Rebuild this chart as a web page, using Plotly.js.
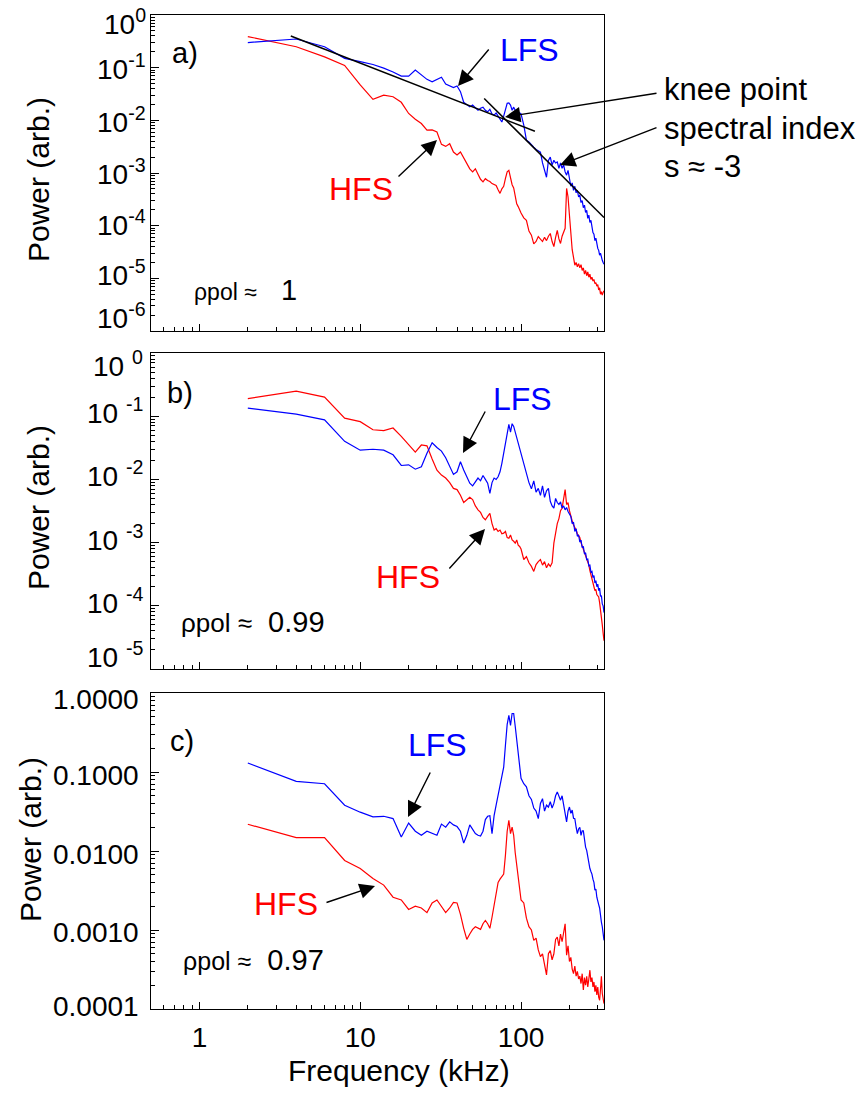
<!DOCTYPE html>
<html>
<head>
<meta charset="utf-8">
<script src="https://cdn.plot.ly/plotly-3.0.1.min.js"></script>
<style>
  html, body { margin: 0; padding: 0; background: #fff; }
  #chart { width: 864px; height: 1093px; }
</style>
</head>
<body>
<div id="chart"></div>
<script>
// Frequency grid (kHz)
const freq = [2,4,6,8,10,12,14,16,18,20,22,24,26,28,30,32,34,36,38,40,
  42,44,46,48,50,52,54,56,58,60,62,64,66,68,70,72,74,76,78,80,
  82,84,86,88,90,92,94,96,98,100,
  104,108,112,116,120,124,128,132,136,140,144,148,152,156,160,164,168,172,176,180,
  184,188,192,196,200,204,208,212,216,220,224,228,232,236,240,244,248,252,256,260,
  264,268,272,276,280,284,288,292,296,300,304,308,312,316,320,324,328];

// Panel a) rho_pol ~ 1
const lfsA = [0.30,0.35,0.25,0.15,0.13,0.115,0.098,0.083,0.069,0.069,
  0.090,0.072,0.060,0.054,0.060,0.066,0.049,0.045,0.042,0.045,
  0.035,0.022,0.020,0.018,0.0195,0.017,0.0155,0.017,0.0178,0.0155,
  0.0145,0.0162,0.0132,0.0126,0.0138,0.012,0.0105,0.0093,0.012,0.017,
  0.021,0.0214,0.0195,0.0155,0.0178,0.0155,0.0145,0.0138,0.0138,0.0132,
  8.1e-3,4.2e-3,3.9e-3,3.4e-3,3.1e-3,2.8e-3,2.6e-3,2.5e-3,1.55e-3,1.12e-3,
  8.3e-4,1.74e-3,2.0e-3,1.41e-3,1.74e-3,1.55e-3,1.62e-3,1.23e-3,1.55e-3,1.23e-3,
  1.41e-3,1.05e-3,9.1e-4,1.12e-3,7.9e-4,5.6e-4,6.5e-4,4.7e-4,5.6e-4,4.2e-4,
  4.7e-4,3.5e-4,3.8e-4,2.75e-4,3.0e-4,2.2e-4,2.45e-4,1.78e-4,1.95e-4,1.38e-4,
  1.58e-4,1.15e-4,1.26e-4,8.9e-5,7.4e-5,6.9e-5,5.2e-5,5.8e-5,4.3e-5,3.7e-5,
  3.4e-5,2.75e-5,3.0e-5,2.4e-5,2.2e-5,2.0e-5,1.86e-5];
const hfsA = [0.39,0.25,0.16,0.11,0.047,0.025,0.030,0.028,0.022,0.0135,
  0.0105,8.7e-3,6.5e-3,6.6e-3,6.0e-3,3.5e-3,3.2e-3,3.6e-3,2.5e-3,2.2e-3,
  2.5e-3,1.9e-3,1.5e-3,1.2e-3,1.05e-3,1.2e-3,9.5e-4,7.6e-4,6.8e-4,7.8e-4,
  7.2e-4,6.9e-4,6.3e-4,6.0e-4,5.8e-4,4.8e-4,4.1e-4,5.0e-4,5.6e-4,7.9e-4,
  1.05e-3,1.12e-3,7.9e-4,6.0e-4,5.2e-4,3.5e-4,2.6e-4,2.3e-4,1.9e-4,1.74e-4,
  1.41e-4,1.26e-4,7.9e-5,6.6e-5,4.5e-5,5.0e-5,6.2e-5,5.5e-5,5.0e-5,6.0e-5,
  5.2e-5,6.3e-5,7.1e-5,5.0e-5,4.0e-5,6.0e-5,8.1e-5,5.6e-5,4.6e-5,6.3e-5,
  7.6e-5,8.9e-5,5.1e-4,3.5e-4,1.58e-4,5.6e-5,3.5e-5,2.5e-5,1.78e-5,2.0e-5,
  1.66e-5,1.9e-5,1.58e-5,1.82e-5,1.41e-5,1.58e-5,1.2e-5,1.41e-5,1.12e-5,1.32e-5,
  1.05e-5,1.2e-5,9.5e-6,1.05e-5,8.9e-6,9.5e-6,7.9e-6,8.3e-6,7.1e-6,7.6e-6,
  6.0e-6,6.6e-6,5.0e-6,5.6e-6,4.8e-6,5.4e-6,5.8e-6];
// Power-law fits either side of the knee
const fitLowF = [3.7, 122];
const fitLowP = [0.40, 6.2e-3];
const fitHighF = [59, 328];
const fitHighP = [2.6e-2, 1.43e-4];

// Panel b) rho_pol ~ 0.99
const lfsB = [0.134,0.108,0.0875,0.040,0.029,0.030,0.029,0.0245,0.0166,0.017,
  0.0145,0.0158,0.026,0.038,0.032,0.028,0.022,0.0158,0.012,0.0132,
  0.019,0.0141,0.0112,8.7e-3,7.9e-3,9.1e-3,0.0105,9.5e-3,0.0115,0.010,
  8.7e-3,6.0e-3,8.9e-3,0.0105,0.010,0.011,0.0132,0.018,0.026,0.038,
  0.060,0.074,0.056,0.076,0.069,0.056,0.048,0.038,0.030,0.025,
  0.0178,0.0126,8.9e-3,7.1e-3,9.5e-3,6.3e-3,7.2e-3,5.6e-3,7.9e-3,5.2e-3,
  6.6e-3,7.2e-3,4.5e-3,3.8e-3,3.5e-3,5.0e-3,4.3e-3,4.0e-3,4.4e-3,3.5e-3,
  3.8e-3,3.3e-3,3.6e-3,3.1e-3,2.8e-3,2.6e-3,2.0e-3,2.1e-3,1.5e-3,1.66e-3,
  1.26e-3,1.32e-3,1.02e-3,1.1e-3,8.3e-4,8.7e-4,6.6e-4,6.9e-4,5.4e-4,5.5e-4,
  4.3e-4,4.4e-4,3.4e-4,3.5e-4,2.8e-4,3.0e-4,2.3e-4,2.5e-4,2.0e-4,2.2e-4,
  1.74e-4,1.9e-4,1.41e-4,1.45e-4,1.07e-4,1.0e-4,7.8e-5];
const hfsB = [0.19,0.25,0.20,0.093,0.082,0.061,0.059,0.065,0.048,0.035,
  0.027,0.035,0.034,0.021,0.014,0.0117,0.0105,8.9e-3,7.2e-3,6.9e-3,
  5.6e-3,4.3e-3,4.8e-3,5.2e-3,4.8e-3,3.8e-3,3.3e-3,3.0e-3,2.5e-3,2.3e-3,
  2.6e-3,2.9e-3,2.0e-3,1.58e-3,1.66e-3,1.5e-3,1.58e-3,1.38e-3,1.41e-3,1.5e-3,
  1.2e-3,1.17e-3,1.32e-3,1.1e-3,1.05e-3,9.8e-4,1.1e-3,9.1e-4,8.7e-4,7.9e-4,
  5.4e-4,6.0e-4,4.8e-4,4.2e-4,3.5e-4,4.5e-4,5.0e-4,5.4e-4,4.4e-4,5.0e-4,
  4.0e-4,4.6e-4,4.2e-4,4.8e-4,9.8e-4,1.41e-3,2.0e-3,2.4e-3,3.2e-3,3.5e-3,
  5.0e-3,6.9e-3,4.0e-3,4.3e-3,3.2e-3,2.5e-3,2.2e-3,1.9e-3,1.74e-3,1.58e-3,
  1.38e-3,1.26e-3,1.2e-3,1.0e-3,8.9e-4,7.9e-4,6.9e-4,6.3e-4,5.8e-4,5.0e-4,
  4.4e-4,3.6e-4,3.0e-4,2.5e-4,2.2e-4,2.0e-4,1.74e-4,1.82e-4,1.51e-4,1.45e-4,
  1.38e-4,1.12e-4,8.9e-5,6.6e-5,5.0e-5,3.7e-5,2.8e-5];

// Panel c) rho_pol ~ 0.97
const lfsC = [0.13,0.076,0.071,0.038,0.031,0.027,0.0275,0.0257,0.015,0.0226,
  0.0178,0.0158,0.0178,0.0166,0.0158,0.0219,0.020,0.0234,0.0214,0.0204,
  0.0178,0.0126,0.0158,0.0214,0.019,0.0166,0.0158,0.0155,0.0178,0.025,
  0.0275,0.028,0.0166,0.028,0.038,0.050,0.065,0.083,0.115,0.22,
  0.40,0.52,0.39,0.55,0.55,0.38,0.25,0.166,0.112,0.083,
  0.071,0.065,0.050,0.045,0.035,0.032,0.0257,0.040,0.046,0.032,
  0.038,0.036,0.042,0.035,0.040,0.050,0.056,0.048,0.044,0.050,
  0.040,0.032,0.0234,0.032,0.036,0.030,0.033,0.026,0.0257,0.020,
  0.0166,0.019,0.020,0.0158,0.018,0.018,0.0132,0.0112,0.0102,8.3e-3,
  7.6e-3,6.0e-3,5.5e-3,5.1e-3,4.4e-3,4.0e-3,3.2e-3,3.3e-3,2.6e-3,2.4e-3,
  2.1e-3,1.9e-3,1.41e-3,1.26e-3,1.1e-3,8.9e-4,7.4e-4];
const hfsC = [0.0218,0.0148,0.0148,7.6e-3,6.0e-3,4.5e-3,3.7e-3,2.6e-3,2.4e-3,1.82e-3,
  2.0e-3,1.9e-3,1.66e-3,2.2e-3,2.4e-3,2.0e-3,1.66e-3,1.9e-3,2.24e-3,2.2e-3,
  1.58e-3,1.05e-3,7.6e-4,8.9e-4,1.02e-3,1.1e-3,1.07e-3,1.02e-3,1.2e-3,1.32e-3,
  1.2e-3,1.05e-3,1.45e-3,2.0e-3,2.8e-3,4.0e-3,4.4e-3,4.7e-3,5.1e-3,8.9e-3,
  0.0178,0.0245,0.0166,0.020,0.0158,9.5e-3,6.9e-3,4.5e-3,3.2e-3,2.4e-3,
  2.2e-3,1.41e-3,1.1e-3,1.0e-3,7.4e-4,7.9e-4,5.6e-4,4.6e-4,5.0e-4,3.5e-4,
  2.7e-4,5.0e-4,5.5e-4,4.2e-4,5.0e-4,7.6e-4,8.1e-4,6.3e-4,8.9e-4,7.1e-4,
  1.0e-3,1.2e-3,4.8e-4,6.3e-4,4.0e-4,4.5e-4,3.2e-4,2.8e-4,3.5e-4,2.6e-4,
  3.0e-4,2.4e-4,2.6e-4,2.1e-4,2.8e-4,1.74e-4,2.5e-4,2.0e-4,2.6e-4,1.9e-4,
  2.4e-4,3.1e-4,2.2e-4,2.5e-4,1.9e-4,2.2e-4,1.66e-4,2.0e-4,1.51e-4,1.9e-4,
  1.41e-4,1.29e-4,1.78e-4,2.6e-4,1.58e-4,1.32e-4,1.17e-4];

// Axis tick labels
const xTickVals = [1, 10, 100];
const xTickText = ['1', '10', '100'];
const yTickValsA = [1, 1e-1, 1e-2, 1e-3, 1e-4, 1e-5, 1e-6];
const yTickTextA = ['10<sup>0</sup>', '10<sup>-1</sup>', '10<sup>-2</sup>', '10<sup>-3</sup>',
  '10<sup>-4</sup>', '10<sup>-5</sup>', '10<sup>-6</sup>'];
const yTickValsB = [1, 1e-1, 1e-2, 1e-3, 1e-4, 1e-5];
const yTickTextB = ['10 <sup>0</sup>', '10 <sup>-1</sup>', '10 <sup>-2</sup>', '10 <sup>-3</sup>',
  '10 <sup>-4</sup>', '10 <sup>-5</sup>'];
const yTickValsC = [1, 1e-1, 1e-2, 1e-3, 1e-4];
const yTickTextC = ['1.0000', '0.1000', '0.0100', '0.0010', '0.0001'];

const W = 864, H = 1093;
const FONT = 'Liberation Sans, Arial, Helvetica, sans-serif';
const BLUE = '#0000ff', RED = '#ff0000';

// minor tick positions: 2..9 within each decade
function minorTicks(lo, hi) {
  const out = [];
  for (let d = lo; d < hi; d++) {
    for (let m = 2; m <= 9; m++) out.push(m * Math.pow(10, d));
  }
  return out;
}
const xMinor = [0.6, 0.7, 0.8, 0.9].concat(minorTicks(0, 2), [200, 300]);

const plotLeft = 151 / W, plotRight = 604 / W;
const dom = (top, bottom) => [1 - bottom / H, 1 - top / H];

function xAxis(anchor, labels) {
  return {
    type: 'log', anchor: anchor, domain: [plotLeft, plotRight],
    range: [Math.log10(0.5), Math.log10(328)],
    showline: true, mirror: true, linecolor: '#000', linewidth: 1,
    ticks: 'inside', ticklen: 7, tickwidth: 1, tickcolor: '#000',
    tickmode: 'array', tickvals: xTickVals, ticktext: xTickText,
    showticklabels: labels, tickfont: { family: FONT, size: 28, color: '#000' },
    ticklabelstandoff: 3,
    minor: { tickmode: 'array', tickvals: xMinor, ticks: 'inside', ticklen: 4, tickcolor: '#000', showgrid: false },
    showgrid: false, zeroline: false
  };
}
function yAxis(anchor, domain, lo, vals) {
  return {
    type: 'log', anchor: anchor, domain: domain, range: [lo, 0],
    showline: true, mirror: true, linecolor: '#000', linewidth: 1,
    ticks: 'inside', ticklen: 8, tickwidth: 1, tickcolor: '#000',
    tickmode: 'array', tickvals: vals, showticklabels: false,
    minor: { tickmode: 'array', tickvals: minorTicks(lo, 0), ticks: 'inside', ticklen: 4, tickcolor: '#000', showgrid: false },
    showgrid: false, zeroline: false
  };
}

function line(x, y, color, width, xa, ya) {
  return { x: x, y: y, type: 'scatter', mode: 'lines', xaxis: xa, yaxis: ya,
    line: { color: color, width: width }, hoverinfo: 'skip', showlegend: false };
}

const traces = [
  line(freq, hfsA, RED, 1.2, 'x', 'y'),
  line(freq, lfsA, BLUE, 1.2, 'x', 'y'),
  line(fitLowF, fitLowP, '#000', 1.5, 'x', 'y'),
  line(fitHighF, fitHighP, '#000', 1.5, 'x', 'y'),
  line(freq, hfsB, RED, 1.2, 'x2', 'y2'),
  line(freq, lfsB, BLUE, 1.2, 'x2', 'y2'),
  line(freq, hfsC, RED, 1.2, 'x3', 'y3'),
  line(freq, lfsC, BLUE, 1.2, 'x3', 'y3')
];

// annotation helpers (page pixel positions)
function label(x, y, text, size, color, opts) {
  return Object.assign({
    xref: 'paper', yref: 'paper', x: x / W, y: 1 - y / H,
    text: text, showarrow: false, xanchor: 'center', yanchor: 'middle',
    font: { family: FONT, size: size, color: color || '#000' }
  }, opts || {});
}
function arrow(tipX, tipY, tailX, tailY) {
  return {
    xref: 'paper', yref: 'paper', x: tipX / W, y: 1 - tipY / H,
    axref: 'pixel', ayref: 'pixel', ax: tailX - tipX, ay: tailY - tipY,
    text: '', showarrow: true, arrowhead: 2, arrowsize: 2.2, arrowwidth: 1.4,
    arrowcolor: '#000', standoff: 0, startstandoff: 0
  };
}
// y tick labels, placed on each axis at its tick values; end labels sit inside the frame
function tickLabels(yref, vals, text, xshift, yshifts) {
  return vals.map((v, i) => ({
    xref: 'paper', x: plotLeft, xanchor: 'right', xshift: xshift,
    yref: yref, y: Math.log10(v), yanchor: 'middle', yshift: yshifts[i],
    text: text[i], showarrow: false,
    font: { family: FONT, size: 28, color: '#000' }
  }));
}
const rho = (v, size, gap) => '<span style="font-size:' + size + 'px">ρpol ≈</span>' + gap + v;

const annotations = [
  // panel a
  label(185, 53, 'a)', 29),
  label(529, 50, 'LFS', 32, BLUE),
  label(361, 189, 'HFS', 32, RED),
  label(662, 90, 'knee point', 31, '#000', { xanchor: 'left' }),
  label(662, 129, 'spectral index', 31, '#000', { xanchor: 'left' }),
  label(662, 167, 's ≈ -3', 31, '#000', { xanchor: 'left' }),
  label(192, 290, rho('1', 23, '\u00a0\u00a0\u00a0'), 29, '#000', { xanchor: 'left' }),
  arrow(458, 86, 490, 48),
  arrow(437, 140, 397, 178),
  arrow(505, 117, 658, 93),
  arrow(560, 165, 658, 127),
  // panel b
  label(180, 393, 'b)', 29),
  label(522, 399, 'LFS', 32, BLUE),
  label(408, 577, 'HFS', 32, RED),
  label(179, 622, rho('0.99', 26, '\u00a0\u00a0'), 29, '#000', { xanchor: 'left' }),
  arrow(463, 453, 486, 410),
  arrow(485, 529, 448, 570),
  // panel c
  label(182, 741, 'c)', 29),
  label(437, 745, 'LFS', 32, BLUE),
  label(286, 904, 'HFS', 32, RED),
  label(181, 960, rho('0.97', 25, '\u00a0\u00a0'), 29, '#000', { xanchor: 'left' }),
  arrow(408, 817, 431, 771),
  arrow(375, 886, 325, 903),
  // axis titles
  label(38, 180, 'Power (arb.)', 30, '#000', { textangle: -90 }),
  label(38, 508, 'Power (arb.)', 30, '#000', { textangle: -90 }),
  label(30, 840, 'Power (arb.)', 30, '#000', { textangle: -90 }),
  label(399, 1070, 'Frequency (kHz)', 30)
].concat(
  tickLabels('y', yTickValsA, yTickTextA, -3, [-7, 1, 0, 1, 3, 5, 15]),
  tickLabels('y2', yTickValsB, yTickTextB, -6, [-11, 5, 5, 5, 5, 14]),
  tickLabels('y3', yTickValsC, yTickTextC, -10, [-6, -3, -3, -2, 3])
);

const layout = {
  width: W, height: H,
  margin: { l: 0, r: 0, t: 0, b: 0 },
  paper_bgcolor: '#fff', plot_bgcolor: '#fff',
  font: { family: FONT, color: '#000' },
  showlegend: false,
  xaxis: xAxis('y', false),
  xaxis2: xAxis('y2', false),
  xaxis3: xAxis('y3', true),
  yaxis: yAxis('x', dom(15, 331), -6, yTickValsA),
  yaxis2: yAxis('x2', dom(353, 669), -5, yTickValsB),
  yaxis3: yAxis('x3', dom(693, 1009), -4, yTickValsC),
  annotations: annotations
};

Plotly.newPlot('chart', traces, layout, { staticPlot: true, displayModeBar: false });
</script>
</body>
</html>
